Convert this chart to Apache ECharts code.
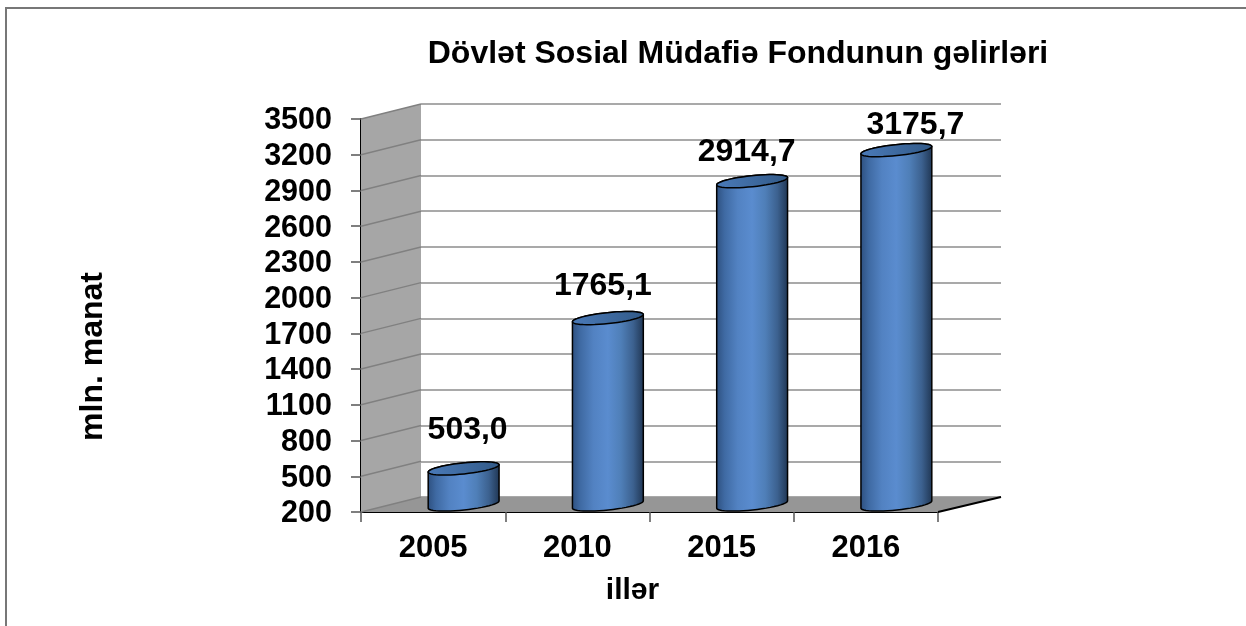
<!DOCTYPE html>
<html><head><meta charset="utf-8">
<style>html,body{margin:0;padding:0;background:#fff}#c{width:1246px;height:626px}</style>
<script src="https://cdn.jsdelivr.net/npm/echarts@6/dist/echarts.min.js"></script>
</head><body><div id="c"></div>
<script>
const categories = ['2005','2010','2015','2016'];
const revenues = [503.0, 1765.1, 2914.7, 3175.7];
const yTicks = [200,500,800,1100,1400,1700,2000,2300,2600,2900,3200,3500];
const titleText = 'Dövlət Sosial Müdafiə Fondunun gəlirləri';
const yAxisName = 'mln. manat';
const xAxisName = 'illər';

const DX = 60, DY = 15;
const LEFT = 361, RIGHT = 938, TOP = 119, BOTTOM = 512;
const FONT = '"Liberation Sans", Arial, sans-serif';
const labelNudge = [[4,-7],[-5,-1],[-5.5,2],[19,6]];

function ellipsePts(cx, cy, a, b, tilt, from, to, n) {
  const out = [], c = Math.cos(tilt), s = Math.sin(tilt);
  for (let i = 0; i <= n; i++) {
    const t = from + (to - from) * i / n;
    const x = a * Math.cos(t), y = b * Math.sin(t);
    out.push([cx + x * c - y * s, cy + x * s + y * c]);
  }
  return out;
}

function renderWalls(params, api) {
  const cs = params.coordSys;
  const b = api.coord([0, yTicks[0]])[1], t = api.coord([0, yTicks[yTicks.length - 1]])[1];
  const l = cs.x, r = cs.x + cs.width;
  return { type: 'group', children: [
    { type: 'polygon', shape: { points: [[l,b],[l,t],[l+DX,t-DY],[l+DX,b-DY]] }, style: { fill: '#a6a6a6' } },
    { type: 'polygon', shape: { points: [[l,b],[r,b],[r+DX+3,b-DY],[l+DX,b-DY]] }, style: { fill: '#969696' } },
    { type: 'line', shape: { x1: r, y1: b, x2: r+DX+3, y2: b-DY }, style: { stroke: '#000', lineWidth: 2 } }
  ]};
}

function renderWallLine(params, api) {
  const cs = params.coordSys;
  const y = api.coord([0, api.value(1)])[1];
  return { type: 'line', shape: { x1: cs.x, y1: y, x2: cs.x + DX, y2: y - DY },
    style: { stroke: '#808080', lineWidth: 1.5 } };
}

function renderCylinder(params, api) {
  const idx = api.value(0);
  const base = api.coord([idx, yTicks[0]]);
  const top = api.coord([idx, api.value(1)]);
  const a = api.size([1, 0])[0] * 0.247;
  const cx = base[0] + DX / 2 + 0.5, yT = top[1] - DY / 2, yB = base[1] - DY / 2;
  const tilt = -0.105, b = 5.5;
  const bottom = ellipsePts(cx, yB, a, b, tilt, 0, Math.PI, 24);
  const topArc = ellipsePts(cx, yT, a, b, tilt, Math.PI, 2 * Math.PI, 24);
  const grad = { type: 'linear', x: 0, y: 0, x2: 1, y2: 0, colorStops: [
    { offset: 0, color: '#2d4f7e' }, { offset: 0.12, color: '#3f6aa3' },
    { offset: 0.3, color: '#5282c2' }, { offset: 0.5, color: '#5a8ccf' },
    { offset: 0.68, color: '#4f7fb8' }, { offset: 0.85, color: '#3c618f' },
    { offset: 1, color: '#1f3552' } ] };
  const lidGrad = { type: 'linear', x: 0, y: 0, x2: 1, y2: 0, colorStops: [
    { offset: 0, color: '#4a7ab8' }, { offset: 1, color: '#325a88' } ] };
  const bodyPts = bottom.concat(topArc);
  return { type: 'group', children: [
    { type: 'polygon', shape: { points: bodyPts }, style: { fill: grad, stroke: '#000', lineWidth: 1.5 } },
    { type: 'polygon', shape: { points: ellipsePts(cx, yT, a, b, tilt, 0, 2 * Math.PI, 48) },
      style: { fill: lidGrad, stroke: '#000', lineWidth: 1.5 } },
    { type: 'text', x: cx + labelNudge[idx][0], y: yT - 31 + labelNudge[idx][1],
      style: { text: api.value(1).toFixed(1).replace('.', ','), fill: '#000',
        font: 'bold 32px ' + FONT, align: 'center', verticalAlign: 'middle' } }
  ]};
}

const chart = echarts.init(document.getElementById('c'), null, { renderer: 'canvas' });
const yBase = { type: 'value', min: yTicks[0], max: yTicks[yTicks.length - 1], interval: 300 };
chart.setOption({
  animation: false,
  backgroundColor: '#fff',
  title: { text: titleText, left: 733, top: 33, textAlign: 'center',
    textStyle: { fontFamily: FONT, fontWeight: 'bold', fontSize: 32, color: '#000' } },
  graphic: [
    { type: 'line', z: 100, silent: true, shape: { x1: 5, y1: 8, x2: 1246, y2: 8 },
      style: { stroke: '#777', lineWidth: 2 } },
    { type: 'line', z: 100, silent: true, shape: { x1: 6, y1: 8, x2: 6, y2: 626 },
      style: { stroke: '#777', lineWidth: 2 } }
  ],
  grid: [
    { left: LEFT, top: TOP, width: RIGHT - LEFT, height: BOTTOM - TOP },
    { left: LEFT + DX, top: TOP - DY, width: RIGHT - LEFT + 3, height: BOTTOM - TOP }
  ],
  xAxis: [
    { type: 'category', gridIndex: 0, data: categories, boundaryGap: true,
      name: xAxisName, nameLocation: 'middle', nameGap: 64,
      nameTextStyle: { fontFamily: FONT, fontWeight: 'bold', fontSize: 30, color: '#000', padding: [0, 34, 0, 0] },
      axisLine: { lineStyle: { color: '#000', width: 2 } },
      axisTick: { show: true, length: 10, alignWithLabel: false, lineStyle: { color: '#555', width: 1.5 } },
      axisLabel: { margin: 21, fontFamily: FONT, fontWeight: 'bold', fontSize: 31, color: '#000' } },
    { type: 'category', gridIndex: 1, data: categories, show: false }
  ],
  yAxis: [
    Object.assign({}, yBase, { gridIndex: 0,
      name: yAxisName, nameLocation: 'middle', nameGap: 252, nameRotate: 90,
      nameTextStyle: { fontFamily: FONT, fontWeight: 'bold', fontSize: 32, color: '#000', padding: [0, 82, 0, 0] },
      axisLine: { show: true, lineStyle: { color: '#000', width: 2 } },
      axisTick: { show: true, length: 10, lineStyle: { color: '#555', width: 1.5 }, customValues: yTicks },
      axisLabel: { margin: 29, fontFamily: FONT, fontWeight: 'bold', fontSize: 30.5, color: '#000',
        verticalAlign: 'top', lineHeight: 4,
        customValues: yTicks, formatter: v => String(v) },
      splitLine: { show: false } }),
    Object.assign({}, yBase, { gridIndex: 1,
      axisLine: { show: false }, axisTick: { show: false, customValues: yTicks }, axisLabel: { show: false, customValues: yTicks },
      splitLine: { show: true, lineStyle: { color: '#8c8c8c', width: 1.5 } } })
  ],
  series: [
    { type: 'custom', xAxisIndex: 0, yAxisIndex: 0, z: 1, silent: true, clip: false,
      renderItem: renderWalls, data: [[0, yTicks[0]]] },
    { type: 'custom', xAxisIndex: 0, yAxisIndex: 0, z: 2, silent: true, clip: false,
      renderItem: renderWallLine, data: yTicks.map(v => [0, v]) },
    { type: 'custom', xAxisIndex: 0, yAxisIndex: 0, z: 5, clip: false,
      renderItem: renderCylinder, encode: { x: 0, y: 1 },
      data: revenues.map((v, i) => [i, v]) }
  ]
});
</script></body></html>
